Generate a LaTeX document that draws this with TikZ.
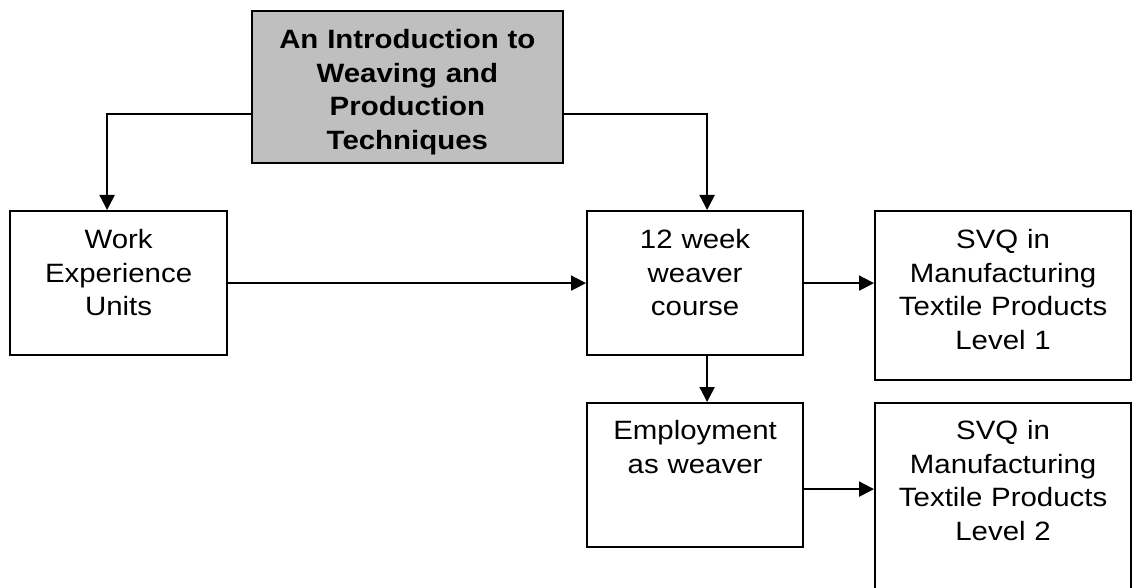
\documentclass[tikz,border=0pt]{standalone}
\usepackage{fontspec}
\setmainfont[FakeStretch=1.11]{Liberation Sans}
\usetikzlibrary{arrows.meta}
\definecolor{gris}{rgb}{0.75 0.75 0.75}

\begin{document}
\begin{tikzpicture}[x=1pt,y=-1pt]
	% STYLES
	\tikzstyle{boite} = [draw=black, line width=2.2pt, inner sep=0pt, align=center, anchor=north west, text height=37.5pt, font=\fontsize{26.5}{33.5}\selectfont]
	\tikzstyle{titre} = [boite, fill=gris, font=\fontsize{26.5}{33.5}\selectfont\bfseries]
	\tikzstyle{fleche} = [line width=2pt, draw=black, -{Triangle[length=15pt,width=15pt]}]

	\useasboundingbox (0,0) rectangle (1132,588);

	% NOEUDS
	\node[titre, text width=311.5pt, text depth=114.5pt] at (250.5, 10) (intro) {An Introduction to\\Weaving and\\Production\\Techniques};
	\node[boite, text width=217pt, text depth=106.5pt] at (9, 210) (stage) {Work\\Experience\\Units};
	\node[boite, text width=216pt, text depth=106.5pt] at (586, 210) (cours) {12 week\\weaver\\course};
	\node[boite, text width=256pt, text depth=131.5pt] at (874, 210) (svqun) {SVQ in\\Manufacturing\\Textile Products\\Level 1};
	\node[boite, text width=216pt, text height=36.8pt, text depth=107.2pt] at (586, 402) (emploi) {Employment\\as weaver};
	\node[boite, text width=256pt, text height=36.8pt, text depth=200pt] at (874, 402) (svqdeux) {SVQ in\\Manufacturing\\Textile Products\\Level 2};

	% FLECHES
	\path[fleche] ([yshift=-27pt]intro.west) -| ([xshift=-11.5pt]stage.north);
	\path[fleche] ([yshift=-27pt]intro.east) -| ([xshift=12pt]cours.north);
	\path[fleche] (stage.east) -- (cours.west);
	\path[fleche] (cours.east) -- (cours.east -| svqun.west);
	\path[fleche] ([xshift=12pt]cours.south) -- ([xshift=12pt]emploi.north);
	\path[fleche] ([yshift=-14pt]emploi.east) -- ([yshift=-14pt]emploi.east -| svqdeux.west);
\end{tikzpicture}
\end{document}
